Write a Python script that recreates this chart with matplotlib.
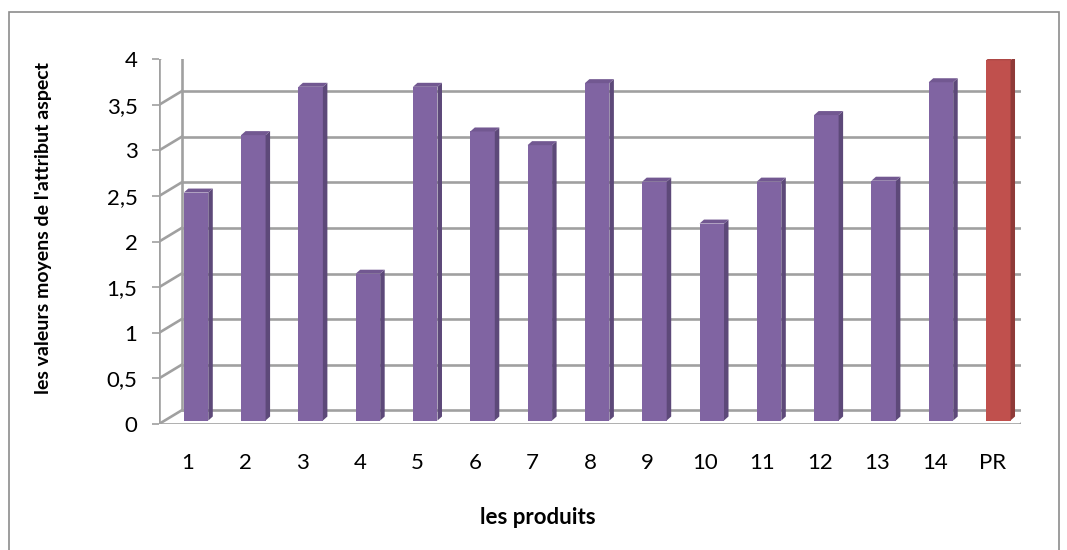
import numpy as np
import matplotlib
matplotlib.use("Agg")
import matplotlib.pyplot as plt
from matplotlib.patches import Polygon, Rectangle

plt.rcParams["font.family"] = ["Lato", "DejaVu Sans"]

# mean "aspect" score for each product, PR is the reference product
produits = ["1", "2", "3", "4", "5", "6", "7", "8", "9", "10", "11", "12", "13", "14", "PR"]
valeurs = [2.5, 3.13, 3.66, 1.61, 3.66, 3.17, 3.02, 3.70, 2.62, 2.16, 2.62, 3.35, 2.63, 3.71, 3.95]
y_ticks = [0, 0.5, 1, 1.5, 2, 2.5, 3, 3.5, 4]
y_tick_labels = ["0", "0,5", "1", "1,5", "2", "2,5", "3", "3,5", "4"]

W, H = 1067, 550
fig = plt.figure(figsize=(W / 100, H / 100), dpi=100)
fig.patch.set_facecolor("white")

# front plane of the fake 3d box (pixels -> figure fractions)
left_px, right_px, zero_px, top_px = 159, 1021, 424, 59.3
ax = fig.add_axes([left_px / W, (H - zero_px) / H, (right_px - left_px) / W, (zero_px - top_px) / H])
n = len(produits)
ax.set_xlim(-0.5, n - 0.5)
ax.set_ylim(0, 4)
ax.set_facecolor("none")

# data units per pixel, used for the depth offsets
ux = (right_px - left_px) / n
uy = (zero_px - top_px) / 4

depth_dx_left, depth_dx_right, depth_dy = 22.7, 12.0, 13.7
grid_col = "#a0a0a0"


def back(x):
    """offset in data units from front plane to back wall at position x"""
    dx = depth_dx_left + (depth_dx_right - depth_dx_left) * (x + 0.5) / n
    return dx / ux, depth_dy / uy


xl, xr = -0.5, n - 0.5
bl = back(xl)
br = back(xr)

# back wall gridlines + side wall diagonals
for v in y_ticks:
    ax.plot([xl + bl[0], xr + br[0]], [v + bl[1], v + br[1]], color=grid_col, lw=1.9,
            zorder=1, solid_capstyle="butt")
    ax.plot([xl, xl + bl[0]], [v, v + bl[1]], color=grid_col, lw=1.9, zorder=1)
# back wall left edge
ax.plot([xl + bl[0], xl + bl[0]], [bl[1], 4 + bl[1]], color=grid_col, lw=1.9, zorder=1)
# floor: front edge and right edge
ax.plot([xl, xr], [0, 0], color=grid_col, lw=1.9, zorder=5)
ax.plot([xr, xr + br[0]], [0, br[1]], color=grid_col, lw=1.9, zorder=5)
# front left edge of the side wall
ax.plot([xl, xl], [0, 4], color=grid_col, lw=1.9, zorder=5)

# bars: front face from ax.bar, side and top as polygons
bar_dx_left, bar_dx_right, bar_dy = 8.3, 6.0, 3.5
bar_w = 24.5 / ux
side_dx, side_dy = 4.5 / ux, 4.0 / uy

x = np.arange(n)
bar_shift = (bar_dx_left + (bar_dx_right - bar_dx_left) * x / (n - 1)) / ux
front_cols = ["#8064a2"] * (n - 1) + ["#c0504d"]
side_cols = ["#5d4979"] * (n - 1) + ["#8f3a38"]
top_cols = ["#725891"] * (n - 1) + ["#ad4845"]

b0 = bar_dy / uy
ax.bar(x + bar_shift, valeurs, width=bar_w, bottom=b0, color=front_cols, zorder=3)
for i, v in enumerate(valeurs):
    x0 = x[i] + bar_shift[i] - bar_w / 2
    x1 = x0 + bar_w
    yt = b0 + v
    side = Polygon([(x1, b0), (x1 + side_dx, b0 + side_dy), (x1 + side_dx, yt + side_dy), (x1, yt)],
                   closed=True, fc=side_cols[i], ec="none", zorder=3)
    top = Polygon([(x0, yt), (x1, yt), (x1 + side_dx, yt + side_dy), (x0 + side_dx, yt + side_dy)],
                  closed=True, fc=top_cols[i], ec="none", zorder=3)
    ax.add_patch(side)
    ax.add_patch(top)

for s in ax.spines.values():
    s.set_visible(False)

ax.set_yticks(y_ticks)
ax.set_yticklabels(y_tick_labels, fontsize=16)
ax.tick_params(axis="y", length=5, width=1.2, color=grid_col, pad=10.5)
ax.set_xticks(x)
ax.set_xticklabels(produits, fontsize=16)
ax.tick_params(axis="x", length=0, pad=21)

fig.text(44 / W, 1 - 228 / H, "les valeurs moyens de l'attribut aspect", rotation=90,
         ha="center", va="center", fontsize=14, fontweight="bold")
fig.text(538 / W, 1 - 517 / H, "les produits", ha="center", va="center",
         fontsize=16, fontweight="bold")

# chart border
fig.add_artist(Rectangle((8.5 / W, -0.02), (1059 - 8.5) / W, 1.02 - 11.5 / H,
                         transform=fig.transFigure, fill=False, ec="#8c8c8c", lw=1.2))

fig.savefig("out.png", dpi=100)
